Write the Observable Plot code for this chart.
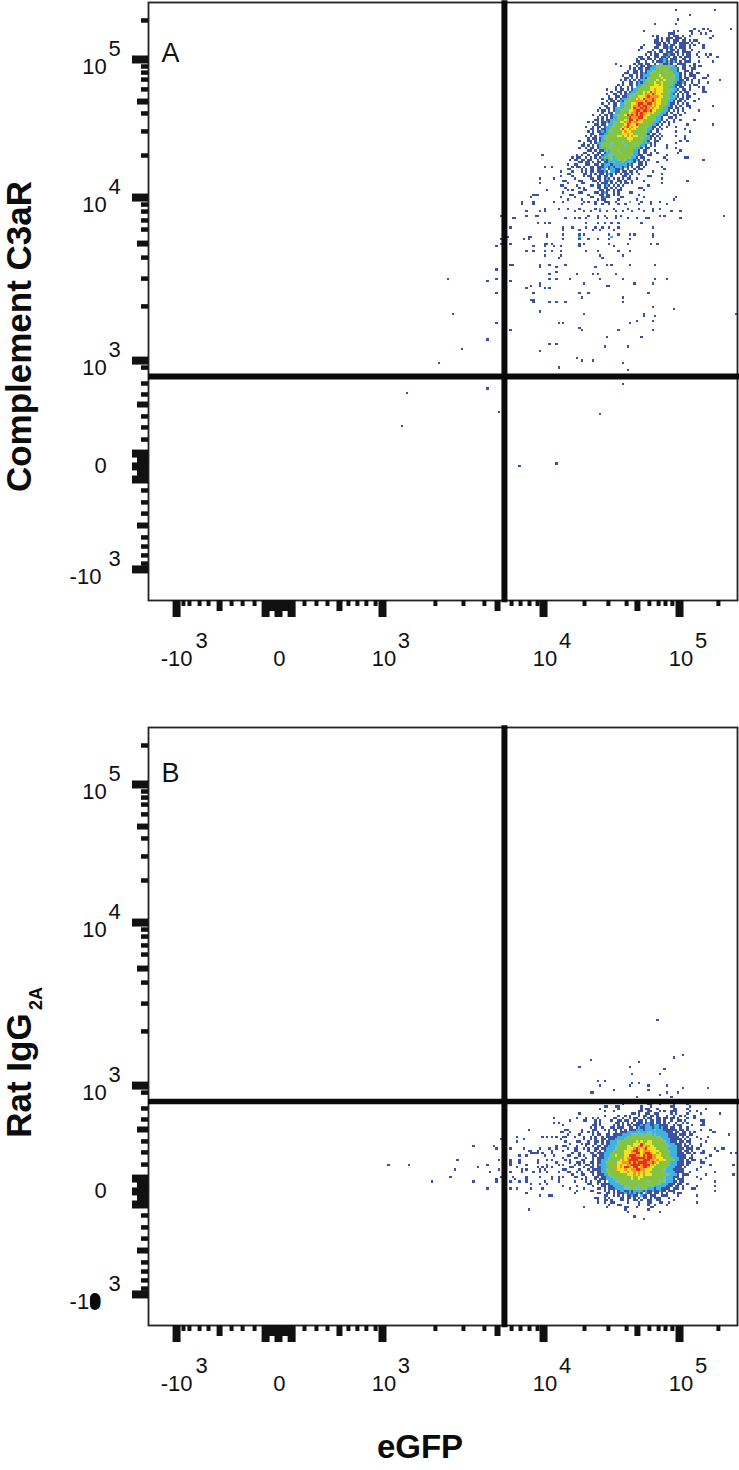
<!DOCTYPE html>
<html><head><meta charset="utf-8">
<script src="https://cdn.jsdelivr.net/npm/d3@7"></script>
<script src="https://cdn.jsdelivr.net/npm/@observablehq/plot@0.6"></script>
<style>html,body{margin:0;padding:0;background:#fff}svg{display:block}</style>
</head><body><div id="chart"></div>
<script>
// Density levels of the pseudocolour plot
const levels = ["b","c","t","g","y","o","r"];
const levelColors = ["#3a529f","#3fb2e4","#6fc4a8","#86c440","#f2e31d","#f7931f","#e8301f"];

// Axes are in instrument channels (0-256, biexponential display)
const xMajor = [12.2,56.5,101.7,171.7,230.8];
const xZero = [50.9,62.2];
const xZeroFill = [53.5,56.5,59.5];
const xMid = [30.9,83,151.7,212.5];
const xMinor = [15.2,17.8,22.2,26.1,36.1,40.9,46.1,67.8,73,77.8,86.9,90.8,94.7,98.7,124.7,136.9,146,157.8,161.7,165.6,169.1,189.5,199.9,207.8,217.7,221.7,224.7,227.7,247.7];
const yMajor = [231.6,172.5,102.7,57.4,13.3];
const yZero = [62.9,51.8];
const yZeroFill = [60.4,57.4,54.4];
const yMid = [213.6,152.8,83.9,32.1];
const yMinor = [248.3,228.6,226,223,218.8,208.5,200.8,190.5,169.5,166.5,162.7,158.8,146.8,137.8,125.9,99.7,92.9,88.2,78.8,74.1,68.9,47.1,42,37.2,27,23.1,19.3,15.8];
const xBases = ["-10","0","10","10","10"];
const xExps = ["3","","3","4","5"];
const yBases = ["10","10","10","0","-10"];
const yExps = ["5","4","3","","3"];
const gateX = 154.7;
const gateY = 95.9;

// Panel A dense part: row strings, "startColumn:pattern", top row 254, left column 179
const rowsA = [
"","","50:b 67:b","","56:b","","51:b","","41:b 50:b","",
"58:b 62:b 64:b 74:b",
"36:b 49:b 51:b 56:bb 60:b 65:b",
"47:bbb 57:b 61:b 63:b",
"40:b 42:b 47:b.bbb 53:b 56:b 66:b",
"42:b.b 46:bbb.bb 52:b.b 65:b",
"41:bb 44:b.bb.bb 51:b.bb 56:b 58:bb",
"41:bbb 45:b.b.bb.bbb 54:bb.b 60:b",
"36:b 42:bb.bb. 48:bb..bb 54:b.b.b 62:b",
"35:b 41:bb..bb 47:cb.b.b 53:bb.b 62:b",
"34:b 40:b..bb.b 48:bb.b.b 54:b..b",
"38:bb 41:b.bb.bb 48:b.bb.bb 55:bb 60:b",
"37:b.b 41:bb..bb 47:cbb.b 53:b.bb 59:b 63:b 65:b",
"34:bb. 38:b..bb 44:bbcb.b 50:b.b.bb 56:b 60:b 64:b 68:b",
"33:b.bb 38:bb.b 43:bbcb.b 49:bb..bb 56:b",
"33:bb 37:b 40:b.bbb 45:cbtb 49:cb.b.b 55:bb 60:b 66:b",
"24:b 32:b.bb 37:bb..b 43:tgbb 47:cb..bb 53:bb 58:b",
"26:b 30:b..b.bb.b 38:bbcc 42:ttgg 46:ggt 49:cb..bb.b.b.bb",
"30:b.b.bb.b 38:bcc 41:cgtg 45:gggc 49:ccb.bb..bb 58:b",
"29:b..bb.b 37:bcc 40:ttgg 44:gtgg 48:gcc 51:b..bb.b",
"28:bb..bb.b 36:cbc 39:tggg 43:gggt 47:ggcc 51:cb.b.bb.b 60:b",
"27:b..bb.b 35:bcc 38:cggg 42:gygg 46:gggt 50:ccb.b.bb 58:b 64:b",
"28:bb.b.b 35:bcb 38:tggg 42:ggyg 46:ggtg 50:cc 52:b.bb..b 62:bb",
"26:b.b.b.b. 34:bcc 37:gtgg 41:gygg 45:ygtg 49:gcc 52:bb.b.b 60:b 69:b",
"27:b..bb.b 34:cbc 37:gggg 41:yggy 45:gggt 49:cc 51:bbcb..b 60:b 64:b",
"25:b.b..bb 33:bcc 36:tggg 40:gyyg 44:yggg 48:gcb 51:bb.b.b 58:bb",
"24:b 26:b..b.b 33:ccg 36:gggy 40:yyyy 44:yggg 48:ccb.bb..b 60:b.b",
"20:b 24:b.bb.b. 31:bcc 34:gggg 38:gyyo 42:yyyg 46:ggtc 50:cb.bb.b 62:b",
"22:b..bb.b 30:bcc 33:gggy 37:oyry 41:gyyy 45:ggtc 49:cb.b.b 55:b 62:bb",
"20:b 23:bb.b.b 29:ccg 32:tggg 36:yooy 40:royy 44:gggg 48:cb.b 53:b.b 58:b",
"21:b..bb.bb 29:ctt 32:ggyy 36:yoro 40:oooy 44:yggg 48:cgcb.b.b 56:b",
"18:b..bb.b. 26:bcc 29:gtgg 33:yoyr 37:ooor 41:oyyg 45:ggtc 49:cb.bb 55:b 60:b",
"20:b.bb.b 26:cb 28:tggg 32:gooo 36:yroo 40:royy 44:gggc 48:cb.bb.b 58:b",
"18:b..b.bb. 26:cct 29:ggyy 33:orro 37:orry 41:oyyg 45:ggc 48:bb.b.b 55:b",
"19:bb..bb. 26:ccgg 30:gyoo 34:rorr 38:ooyo 42:yggg 46:cc 48:b.b.b..bb 66:b",
"17:b..bb.b 24:cgcg 28:tggy 32:roor 36:oroy 40:oyyg 44:gccb 48:b.bb.b. 56:b",
"16:b 18:bb.b.b 24:cc 26:tggg 30:yyor 34:rorr 38:oryy 42:gggc 46:cb.b.b.b 60:b",
"18:b..bb 24:ccgg 28:ggyo 32:oror 36:ooyo 40:yggt 44:ccb.b..b 54:b",
"14:b 17:b.bb.b 23:cgtg 27:gyro 31:roro 35:royy 39:ggg 42:gcc 45:bb..bb.b",
"16:b.b.b.b 23:ccgg 27:gggr 31:ooor 35:ryyg 39:gggc 43:cb..bb.b",
"15:bb.b.bb 22:cgcg 26:ggyo 30:rryr 34:oyog 38:gggt 42:ccb.b..b 52:b 58:b",
"12:b 14:b.b.bb 20:cbc 23:gtgy 27:yoor 31:yooy 35:yggg 39:ggcc 43:b.b.b.b",
"15:bb.bb. 21:cct 24:ggg 27:gyro 31:yyro 35:gggg 39:gcc 42:b.b..b 55:b 66:b",
"11:b 14:b.bb.b 20:ccg 23:tggg 27:yory 31:oyyg 35:ggt 38:gcb 41:b.b..b 50:b",
"13:bb.b.bb 20:ccg 23:gggy 27:ryyo 31:yygg 35:gggc 39:cb.b.b 54:b",
"12:b.b.bb 18:cbcg 22:tggg 26:gyoy 30:yogg 34:gggt 38:cb..b 50:b 56:b",
"13:bb..bb 19:ccg 22:gggg 26:gyyo 30:yygg 34:tggc 38:b.bb.b",
"11:b.b.b.b 17:cct 20:gggg 24:gyyg 28:ygyo 32:yygg 36:gtc 39:bb.b.b 50:b 54:b",
"12:b.bb.b 18:cgt 21:gggg 25:gggg 29:yyyg 33:ggtg 37:cc 39:b.b.b 54:b",
"8:b 12:bb.b.b 18:ccg 21:gggg 25:ggtg 29:gygg 33:gggc 37:cb..bb 52:b 55:b",
"10:b..b.b 16:cc 18:gtgg 22:tggg 26:gtgg 30:gggt 34:ggcg 38:cb.b 50:b",
"9:bb 12:b.b.b 17:cgg 20:ggtg 24:gggg 28:tggg 32:gggc 36:cb.b.b 46:b",
"8:b 11:b.bb.b 17:cgc 20:gtgg 24:gggg 28:gggg 32:gc 34:cb.bb 46:b 50:b",
"12:bb.b.bb 19:cg 21:cggg 25:tggg 29:gggc 33:cb.bb 41:b 52:b",
"10:bb 14:b.bb.b 20:cct 23:gggt 27:gggg 31:gcc 34:b.bb.b 42:b 51:b",
"7:b.b 12:b..bb.b 19:cct 22:tggg 26:gggg 30:gtcc 34:bb..bb 46:b",
"5:b.bb 11:b.b.b.b 18:cgc 21:gtcg 25:gggg 29:gtcc 33:b.bb 45:b 54:bb",
"4:b.bb.bb 12:bb..b.b 19:cbc 22:tcct 26:ggtc 30:ccb 33:cb.b.b 46:b 62:b",
"8:bb.bb 14:b.bb.b 20:bcc 23:tccc 27:gcct 31:cb.bb.b 42:b",
"3:b 6:bb 11:bb..bb.b 19:ccc 22:bccc 26:cccb 30:cb..bb.b",
"5:b.bb 10:b..bb.b 17:bbcc 21:bcbc 25:ccbc 29:b.b.bb.b 44:b",
"3:bb 9:b.b.bb.b 17:bcc 21:bcc 24:bbcb.b..b.bb 45:b",
"0:b 5:b 9:b.b.bb.bb 18:bcb 22:ccb 25:b.bb.bb.b 40:b",
"3:bb 10:bb 13:b.b.bb.b 21:cb.b.b.bb.b 34:b 44:b",
"0:b 5:b 10:b.bb..bb.bb.b 27:bb.b 38:bb",
"6:b 13:bb.bb.bcb.b.b.b.bb 33:b 44:b",
"1:bb 8:bb 14:bb.b.bbcb..bb 28:b..b 36:b 55:b",
"3:b 9:bb 16:b.bbb.b.b.b.bb.b 44:b",
"0:bb 7:b 13:bb.bb.bcb.b.b.b 38:b",
"2:b 8:b.b 16:bb.bb.b.b.b 34:bb",
"3:b.b 10:bb 17:bb.bb.b.bb 36:b",
"1:b 8:bb 15:bb.bcb..b.b 30:bb",
"4:bb 12:b 17:bb.bb.b.b 34:b",
"0:b 6:b 13:bb 18:bcbb 26:bb 36:b 50:b",
"3:b 9:b 16:b.bb 25:b 33:b 49:b",
"1:b 12:b 20:bb 35:b"
];

// Panel A sparse events: [yChannel, xChannel, xChannel, ...]
const sparseA = [
[190,171],[185,172,175],[180,170,176],[178,170],[175,173],[173,167,168,169],[172,166],
[170,162,167,176,189,194,198,203,218,222],
[169,162,167,188,194,197,200,204,207,213,218,225],
[167,172,178,182,187,194,202,208,213,219,222],
[166,164,170,172,185,189,192,196,199,203,206,210,215,219,227,231],
[164,153,164,168,169,191,195,198,203,205,222,224,250],
[163,158,159,181,185,187,190,195,199,203,208,212,216,217,231],
[161,169,172,174,190,195,198,201,204,214],
[159,157,180,184,190,194,197,200,204,219],
[158,180,187,193,196,202],
[156,173,180,187,189,200,204,209,211,219],
[155,156,165,166,173,219],
[154,153,163,165,180,187,191,195,200,209],
[152,153,155,157,172,173,175,187,189,200,208,218,221],
[151,151,167,172,176,179,187,202],
[149,164,167,172,175,179,190,195,204,209],
[147,172,179,196,206],[146,178,197],
[143,157,158,170,174,181,199,201,209,220],
[142,170,177,194],[141,151],[140,177],
[139,174,186,193,195,203],
[137,130,151,174,177,183,196,206,220,225],
[136,147,157],[135,170,189,211,219],[134,166,170,199,200],[133,164,172,174],
[131,151,167,187,191,217],[129,188,206],[128,166,167],
[127,167,174,177,181,206],[125,219],[124,228],[123,170],
[122,132,189,215,255],[121,215,220],[119,212,219],[118,151,178,180,209],
[116,187],[115,157,188,204,219],[112,199,214],[111,147],[109,174,177],
[108,198,208],[107,136],[106,170],[103,186],[102,188,193],[101,126,206],
[99,178],[98,208],[92,206],[90,147],[88,112],[80,152],[79,196],[74,110],[58,177],[57,161]
];
const cyanA = [[170,209],[167,196],[155,187],[155,201]];

// Panel B dense part: top row 94, left column 180
const rowsB = [
"26:b 37:bb 42:b 48:b 54:b",
"18:bb 23:bb 34:b 38:b 47:bb 55:b",
"16:b 24:b 34:b 36:bb 41:b 48:bb 54:b 62:b",
"18:b 22:b 33:bb 37:bb 42:b 44:b 47:bbb 55:b 58:b",
"7:b 30:bb.b 36:bb 40:bb 47:b.b 54:b 60:b 68:b",
"18:b 24:b..b 29:b 33:b.bb 38:bb.b 45:b..b 51:b.b 57:b",
"6:b 10:b 13:b 15:b 22:bb 26:b..b 31:bb..b 37:bb..b 42:b.bb 47:bb.b 54:b 57:b",
"3:b 9:bb 14:b.b 21:b..bb 27:bb..b 33:bb.b.b 39:b.bb 44:b..b 50:bb.b 60:bb",
"14:b 16:b 23:bb.b.b 30:b.bbb 36:bcbb 41:bb.b 46:b..b 52:b.b 61:b",
"0:b 13:bb.b 22:b.b.b 28:bb.b 32:bbcb 36:ccbb 40:ccbb 44:bb..b 50:bb 56:b 60:bb",
"12:b.b 17:b 21:bb.bb 26:b..bb 32:bcbb 36:cccb 40:ccbc 44:bb.b 48:b..b 54:b",
"1:bb 8:b 13:bb 18:b.b 22:bb.b 27:b.bbb 32:cccb 36:cccc 40:tccc 44:bbbb 48:bb.bb 54:b 60:b 64:b",
"0:b 3:b 8:b 11:b.b.b 20:b..b.bb 27:bcc 30:ccct 34:ccct 38:tccc 42:cccb 46:bb.b 50:b.bb 55:b 57:b 65:bb",
"2:b 7:b 13:b.bb 19:bb.bb 24:bbcc 28:cctt 32:tgtg 36:gttc 40:tccc 44:ccbb 48:bb.b 52:bb 55:bb 72:b",
"0:bb 5:b 9:b 12:b.b 17:b.bbb 22:bbcc 26:cctg 30:gggg 34:gtgg 38:gggt 42:tccc 46:bbbb 50:b.b.b 58:b 63:b",
"9:b 12:b.b 17:bb.bb 22:bccc 26:ctgg 30:gggg 34:gggg 38:gggg 42:gtcc 46:cbbb 50:bb.b 55:b 60:b",
"1:b 6:bb 11:b..bb 17:b.bb 21:ccct 25:gggg 29:gggy 33:gygg 37:yygg 41:gggt 45:ccbb 49:b.bb 54:bb 62:b",
"3:b 8:b.bb 14:b..b 19:bbc 22:cctg 26:gggg 30:gyyy 34:rgyy 38:yggg 42:gggt 46:cccb 50:bb.b 55:b 60:b",
"0:bb 6:b 10:b..b 15:bb.b 19:bccc 23:tggg 27:gyyg 31:yyor 35:yooy 39:yggg 43:gggt 47:cccb 51:b.bb 56:b 60:b",
"2:b 5:bb 9:b.b 14:bb.bb 19:cccc 23:tggg 27:gyyy 31:oroy 35:oryy 39:yygg 43:gggc 47:cccb 51:bb.b 55:bb 58:bb 66:b 69:bb",
"0:b 5:bb 11:b..b 16:b.b 19:ccct 23:gggg 27:yyyo 31:rroy 35:oooy 39:yyyg 43:gggt 47:cccb 51:b.bb 56:b 61:b 67:b",
"4:b 7:b 12:bb.bb 17:bcc 20:cggg 24:gggy 28:yyoo 32:rryo 36:rroy 40:ygyg 44:gggc 48:ccbb 52:b.bb 57:b 60:bb 73:b 75:b",
"2:bb 7:b.b 13:bb.b 17:bcc 20:ctgy 24:gggy 28:yrrr 32:ooyr 36:orro 40:oyyg 44:gggc 48:ccbb 52:bb..b 64:b",
"0:b 5:bb 10:b..b 15:bbb 18:cct 21:gggg 25:goyo 29:orrr 33:rrro 37:rroo 41:yyyg 45:gggc 49:ccbb 53:b.bb 62:b",
"1:b.b 8:bb 13:b.bb 17:cc 19:ctgg 23:ggyo 27:yorr 31:rroo 35:rrro 39:oyoy 43:yygg 47:gtcc 51:bb.b 56:bb 60:b",
"3:b 6:bb.b 12:bb.bb 17:cct 20:gggg 24:yyoo 28:oryr 32:orrr 36:roor 40:oygg 44:gggc 48:ccbb 52:b.bb 60:bb",
"0:b 5:b.b 10:bb.b.b 16:ccc 19:gggg 23:gyoy 27:yoor 31:rrro 35:rrry 39:oygg 43:gggt 47:cccb 51:bb.b 64:b 74:b",
"3:bb 9:b..bb 15:bbcc 19:cggg 23:oyoy 27:rroy 31:rryo 35:rroy 39:yggg 43:gggc 47:ccbb 51:b.b 60:b",
"0:bb 7:b 11:b.bbb 16:bcc 19:tggg 23:oyyy 27:oyyo 31:orro 35:oyyy 39:gggg 43:gtcc 47:cbbb 51:bb 58:b",
"2:bb 6:b.b 12:bb.bb 17:ccg 20:gggg 24:gyyy 28:oyyo 32:yoyo 36:yygg 40:gggg 44:gccc 48:cbbb 52:b..b 66:b",
"4:b 8:bb 13:b.bbb 18:cct 21:gggg 25:gggy 29:yygy 33:oygy 37:yygg 41:gggg 45:tgcc 49:cb.b 53:bb 62:b 74:b",
"0:b 5:bb 10:b 14:bb.bb 19:cct 22:gggg 26:gggg 30:yggy 34:yggg 38:gggg 42:ggtc 46:ccbb 50:b.b 58:b",
"8:b.b 14:b.bbb 19:ccct 23:gggg 27:gggy 31:ggyg 35:gggg 39:gggt 43:gtcc 47:cb.b 51:bb 60:b",
"5:b 10:b.b 15:bb.b. 20:ccct 24:tggg 28:gtgg 32:gggg 36:gtgg 40:ggtg 44:tccc 48:bb.b 52:b 66:b",
"11:bb 15:b.bbb 20:bccc 24:cttg 28:gggg 32:gtgg 36:gggg 40:gttc 44:ccbb 48:b.bb 54:b",
"0:b 6:b 13:b 17:bb.bb 22:cccc 26:cttg 30:gggt 34:gggg 38:ttcc 42:cccb 46:bb.b 50:b.b 58:b 66:b",
"3:b 9:b 15:bb 18:b.bb 22:bccc 26:cttt 30:gttt 34:gttc 38:ccbc 42:cbbb 46:b.bb 50:b.b 56:bb",
"6:b 12:bb 18:b.b.b 24:bccb 28:bcbc 32:cccb 36:cbbc 40:bbcb 44:b.bb 48:b 66:b",
"5:b 15:bb 19:bb.b.b 25:bbcb 29:cbcb 33:cb.c 37:bb.b 41:b.b 45:b..b 50:bb",
"18:bb 22:b.b.b 28:bbcb 32:b.cb 36:b.bb 40:b..b 44:bb 50:b 58:b",
"14:bb 18:b.b 25:bb.bb 31:b.b 35:bb.b.b 41:bb 46:b",
"15:b..bb 21:b 25:bb.b 31:bb.b..b 38:b 41:bb 48:b",
"15:b 18:b 21:bb 28:b 33:b 37:bb 42:bb 46:b 58:b",
"20:b 24:bb 33:b 37:b 40:b 45:b",
"9:b 19:b 27:bb 32:b 38:bb",
"27:b 37:b","28:b 42:b","","31:b","35:b"
];

// Panel B sparse events: [yChannel, xChannel, xChannel, ...]
const sparseB = [
[130,221],[115,232],[114,228],[113,192],[112,213],[110,187,209],[109,224],
[107,210,222],[104,195,198],[103,210,213],[102,196,209,217,225],[101,232,243],
[100,202,217],[99,192,193,225,230],[98,222],[97,212,227],
[88,176],[86,176,178],[83,165],[82,179],[80,160,171,173,175,177],[79,153,163,179],
[78,160],[76,141,150,177],[75,151,157,163,170,174,177],[74,165,166,169,175],
[73,166,167,168,169,171,175],[72,161,164,172,176],[70,134,152,157,161,169,173,175],
[69,157,161,169,177],[68,104,113,147,157,164,173,178],[67,143,160,169,171,173,175],
[66,133,152,162,164,170,172],[65,148,157,162,167,170,173,178],
[63,131,153,158,164,170,175,178],[62,151,159,164,175,178],
[61,123,141,151,157,161,164,172,178],[60,166,170,173],[58,147,157,160,166,171],
[56,164],[55,170,174,175],[49,165]
];

function parseRows(rows, top, left) {
  const out = [];
  rows.forEach((row, j) => {
    row.split(" ").filter(Boolean).forEach(seg => {
      const [start, pattern] = seg.split(":");
      [...pattern].forEach((level, i) => {
        if (level !== ".") out.push({x: left + (+start) + i, y: top - j, level});
      });
    });
  });
  return out;
}
function parseSparse(list, level) {
  return list.flatMap(([y, ...xs]) => xs.map(x => ({x, y, level})));
}

const font = "'Liberation Sans', Arial, sans-serif";

function panel({cells, letter, letterDy, height, marginBottom, gateWidth, extra}) {
  const hideText = {tickFormat: () => "", label: null};
  const xl = {frameAnchor: "bottom", lineAnchor: "middle", textAnchor: "middle", fontSize: 22};
  const yl = {frameAnchor: "left", lineAnchor: "middle", textAnchor: "middle", fontSize: 22};
  return Plot.plot({
    width: 739, height,
    marginLeft: 148, marginRight: 2, marginTop: 2, marginBottom,
    x: {domain: [0, 256], axis: null},
    y: {domain: [0, 256], axis: null},
    color: {type: "ordinal", domain: levels, range: levelColors},
    style: {fontFamily: font, background: "transparent", color: "#111"},
    marks: [
      Plot.rect(cells, {x1: "x", x2: d => d.x + 1, y1: "y", y2: d => d.y + 1, fill: "level", shapeRendering: "crispEdges"}),
      Plot.frame({stroke: "#222", strokeWidth: 1.8}),
      Plot.axisX({anchor: "bottom", ticks: xMinor, tickSize: 6, strokeWidth: 4, stroke: "#111", ...hideText}),
      Plot.axisX({anchor: "bottom", ticks: xMid, tickSize: 11, strokeWidth: 6, stroke: "#111", ...hideText}),
      Plot.axisX({anchor: "bottom", ticks: xZeroFill, tickSize: 11, strokeWidth: 8, stroke: "#111", ...hideText}),
      Plot.axisX({anchor: "bottom", ticks: [...xMajor, ...xZero], tickSize: 17, strokeWidth: 8, stroke: "#111", ...hideText}),
      Plot.axisY({anchor: "left", ticks: yMinor, tickSize: 7, strokeWidth: 4.5, stroke: "#111", ...hideText}),
      Plot.axisY({anchor: "left", ticks: yMid, tickSize: 11, strokeWidth: 6, stroke: "#111", ...hideText}),
      Plot.axisY({anchor: "left", ticks: yZeroFill, tickSize: 11, strokeWidth: 8, stroke: "#111", ...hideText}),
      Plot.axisY({anchor: "left", ticks: [...yMajor, ...yZero], tickSize: 16, strokeWidth: 8, stroke: "#111", ...hideText}),
      Plot.ruleX([gateX], {y1: -1, y2: 256.8, stroke: "#0a0a0a", strokeWidth: 6}),
      Plot.ruleY([gateY], {x1: 0, x2: 257, stroke: "#0a0a0a", strokeWidth: gateWidth}),
      Plot.text([0], {x: i => xMajor[i], text: i => xBases[i], dy: 58, ...xl}),
      Plot.text([0], {x: i => xMajor[i], text: i => xExps[i], dx: 25, dy: 40, ...xl}),
      Plot.text([1], {x: i => xMajor[i], text: i => xBases[i], dy: 58, dx: 1, ...xl}),
      Plot.text([2, 3, 4], {x: i => xMajor[i], text: i => xBases[i], dx: 1.5, dy: 58, ...xl}),
      Plot.text([2, 3, 4], {x: i => xMajor[i], text: i => xExps[i], dx: 21.5, dy: 40, ...xl}),
      Plot.text([0, 1, 2], {y: i => yMajor[i], text: i => yBases[i], dx: -54, dy: 7, ...yl}),
      Plot.text([0, 1, 2], {y: i => yMajor[i], text: i => yExps[i], dx: -34, dy: -11, ...yl}),
      Plot.text([3], {y: i => yMajor[i], text: i => yBases[i], dx: -48, ...yl}),
      Plot.text([4], {y: i => yMajor[i], text: i => yBases[i], dx: -63, dy: 8, ...yl}),
      Plot.text([4], {y: i => yMajor[i], text: i => yExps[i], dx: -34, dy: -10, ...yl}),
      Plot.text([letter], {frameAnchor: "top-left", textAnchor: "middle", lineAnchor: "middle", dx: 22, dy: letterDy, fontSize: 27}),
      ...extra
    ]
  });
}

const titleStyle = {fontWeight: "bold", fontSize: 35, fill: "#0c0c0c", lineAnchor: "middle", textAnchor: "middle"};
const cellsA = [...parseRows(rowsA, 254, 179), ...parseSparse(sparseA, "b"), ...parseSparse(cyanA, "c")];
const cellsB = [...parseRows(rowsB, 94, 180), ...parseSparse(sparseB, "b")];

const chart = document.getElementById("chart");
chart.append(panel({
  cells: cellsA, letter: "A", letterDy: 51, height: 725, marginBottom: 125, gateWidth: 6,
  extra: [Plot.text(["Complement C3aR"], {y: 113, frameAnchor: "left", dx: -129, rotate: -90, ...titleStyle})]
}));
chart.append(panel({
  cells: cellsB, letter: "B", letterDy: 46, height: 745, marginBottom: 145, gateWidth: 5.5,
  extra: [
    Plot.text(["Rat IgG"], {y: 107, frameAnchor: "left", dx: -129, rotate: -90, ...titleStyle}),
    Plot.text(["2A"], {y: 140, frameAnchor: "left", dx: -112, rotate: -90, fontWeight: "bold", fontSize: 18, fill: "#0c0c0c", lineAnchor: "middle", textAnchor: "middle"}),
    Plot.text(["eGFP"], {x: 118, frameAnchor: "bottom", dy: 122, ...titleStyle, fontSize: 33}),
    // ink blot over the "-10" label in the original
    Plot.rect([0], {x1: -25.2, x2: -20.9, y1: 6.4, y2: 13.7, fill: "#0a0a0a", rx: 5})
  ]
}));
</script></body></html>
